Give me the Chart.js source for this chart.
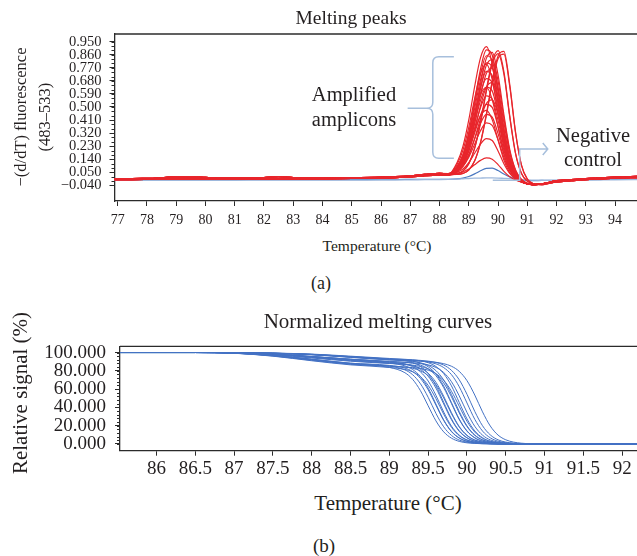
<!DOCTYPE html>
<html><head><meta charset="utf-8">
<script src="https://cdn.jsdelivr.net/npm/chart.js@4.4.1/dist/chart.umd.min.js"></script>
<style>
body{margin:0;background:#fff;width:637px;height:556px;overflow:hidden;position:relative;font-family:'Liberation Serif','Times New Roman',serif;color:#231f20}
canvas{position:absolute;left:0}
.t{position:absolute;white-space:nowrap;transform:translate(-50%,-50%);line-height:1}
.r{transform:translate(-50%,-50%) rotate(-90deg)}
</style></head><body>
<canvas id="ca" width="637" height="232" style="top:0"></canvas>
<canvas id="cb" width="637" height="160" style="top:326px"></canvas>
<div class="t" style="left:351px;top:18px;font-size:19.5px">Melting peaks</div>
<div class="t r" style="left:21px;top:117px;font-size:16.5px">−(d/dT) fluorescence</div>
<div class="t r" style="left:45px;top:117px;font-size:16.5px">(483–533)</div>
<div class="t" style="left:377px;top:246px;font-size:15.5px">Temperature (°C)</div>
<div class="t" style="left:321px;top:283px;font-size:18px">(a)</div>
<div class="t" style="left:354px;top:94px;font-size:20.5px">Amplified</div>
<div class="t" style="left:354px;top:119px;font-size:20.5px">amplicons</div>
<div class="t" style="left:593px;top:135px;font-size:20.5px">Negative</div>
<div class="t" style="left:593px;top:159px;font-size:20.5px">control</div>
<div class="t" style="left:378px;top:321px;font-size:21px">Normalized melting curves</div>
<div class="t r" style="left:20px;top:393px;font-size:21px">Relative signal (%)</div>
<div class="t" style="left:388px;top:503px;font-size:21px">Temperature (°C)</div>
<div class="t" style="left:324px;top:545px;font-size:19px">(b)</div>
<script>
// ---------- Panel (a): melting peaks ----------
const X_TICKS_A = [77,78,79,80,81,82,83,84,85,86,87,88,89,90,91,92,93,94];
const Y_TICKS_A = [0.95,0.86,0.77,0.68,0.59,0.5,0.41,0.32,0.23,0.14,0.05,-0.04];
const TEMP_A_LOW  = [76.8,77.5,78,78.5,79,79.5,80,80.5,81,82,82.5,83,84,85,86,86.5,87,87.5,88,88.3];
const TEMP_A_PEAK = [88.6,88.8,89.0,89.2,89.4,89.6,89.8,90.0,90.2,90.4,90.6,90.8,91.0,91.2,91.5];
const TEMP_A_HIGH = [92,92.5,93,93.5,94,94.8];

const BASE_LOW_1 = [0.003,0.003,0.004,0.004,0.004,0.004,0.004,0.005,0.005,0.006,0.006,0.006,0.007,0.009,0.012,0.015,0.020,0.028,0.034,0.034];
const BASE_LOW_2 = [0.000,0.000,0.002,0.012,0.018,0.020,0.015,0.006,0.002,0.003,0.004,0.004,0.005,0.007,0.010,0.013,0.018,0.026,0.030,0.031];
const BASE_LOW_3 = [0.006,0.007,0.008,0.009,0.010,0.010,0.009,0.009,0.010,0.014,0.020,0.014,0.010,0.012,0.016,0.020,0.026,0.035,0.042,0.040];
const BASE_HIGH_1 = [-0.012,-0.004,0.003,0.008,0.012,0.016];
const BASE_HIGH_2 = [-0.016,-0.008,0.000,0.005,0.010,0.014];
const BASE_HIGH_3 = [-0.008,0.000,0.007,0.012,0.017,0.022];

const RED_A1 = [.117,.228,.411,.641,.839,.916,.796,.526,.261,.095,.018,-.014,-.030,-.035,-.030];
const RED_A2 = [.105,.202,.360,.558,.730,.796,.691,.457,.227,.082,.014,-.015,-.030,-.035,-.030];
const RED_A3 = [.090,.166,.292,.449,.584,.636,.552,.365,.181,.065,.009,-.016,-.030,-.035,-.030];
const RED_A4 = [.075,.131,.223,.339,.439,.476,.413,.273,.135,.047,.004,-.017,-.030,-.035,-.030];
const RED_B1 = [.089,.172,.325,.540,.760,.893,.858,.632,.352,.145,.037,-.008,-.030,-.035,-.030];
const RED_B2 = [.086,.166,.312,.517,.726,.853,.820,.604,.336,.138,.035,-.009,-.030,-.035,-.030];
const RED_B3 = [.083,.158,.295,.488,.685,.804,.773,.569,.317,.130,.032,-.010,-.030,-.035,-.030];
const RED_B4 = [.079,.148,.275,.453,.635,.745,.716,.527,.293,.120,.029,-.010,-.030,-.035,-.030];
const RED_B5 = [.076,.140,.258,.424,.593,.696,.668,.492,.273,.112,.027,-.011,-.030,-.035,-.030];
const RED_B6 = [.072,.131,.238,.389,.544,.637,.611,.450,.250,.102,.023,-.012,-.030,-.035,-.030];
const RED_B7 = [.068,.121,.218,.355,.494,.577,.554,.408,.226,.092,.020,-.013,-.030,-.035,-.030];
const RED_B8 = [.065,.112,.198,.320,.444,.518,.497,.366,.203,.082,.017,-.013,-.030,-.035,-.030];
const RED_B9 = [.060,.100,.174,.279,.386,.449,.430,.316,.175,.070,.013,-.014,-.030,-.035,-.030];
const RED_B10 = [.056,.091,.154,.244,.336,.390,.373,.274,.152,.060,.010,-.015,-.030,-.035,-.030];
const RED_B11 = [.049,.073,.117,.181,.244,.282,.269,.197,.109,.042,.004,-.016,-.030,-.035,-.030];
const RED_B12 = [.041,.052,.072,.102,.132,.149,.140,.103,.056,.019,-.003,-.018,-.030,-.035,-.030];
const RED_C1 = [.069,.128,.249,.439,.660,.835,.877,.721,.448,.208,.066,.001,-.026,-.035,-.030];
const RED_C2 = [.066,.123,.236,.415,.624,.788,.827,.680,.423,.195,.061,.000,-.026,-.035,-.030];
const RED_C3 = [.064,.116,.221,.387,.579,.731,.767,.630,.392,.181,.056,-.002,-.026,-.035,-.030];
const RED_C4 = [.060,.105,.195,.339,.506,.637,.668,.549,.341,.157,.047,-.004,-.027,-.035,-.030];
const RED_C5 = [.055,.091,.165,.282,.417,.524,.549,.450,.279,.128,.037,-.007,-.027,-.035,-.030];
const RED_D1 = [.041,.059,.110,.218,.396,.619,.813,.888,.744,.440,.181,.043,-.011,-.030,-.035];
const RED_D2 = [.041,.058,.108,.213,.387,.605,.795,.868,.727,.430,.176,.042,-.011,-.030,-.035];
const RED_E1 = [.035,.042,.066,.129,.256,.451,.679,.852,.883,.656,.326,.101,.004,-.028,-.035];
const RED_E2 = [.035,.042,.065,.127,.251,.441,.664,.833,.864,.641,.319,.098,.003,-.028,-.035];

const NEG_BLUE_LOW  = [-0.003,-0.003,-0.002,-0.002,-0.002,-0.002,-0.002,-0.001,-0.001,-0.001,-0.001,0,0,0,0,0,0.001,0.002,0.002,0.002];
const NEG_BLUE_PEAK = [0.004,0.010,0.021,0.039,0.060,0.077,0.078,0.062,0.038,0.018,0.005,-0.003,-0.007,-0.008,-0.006];
const NEG_BLUE_HIGH = [-0.005,-0.003,-0.001,0.000,0.001,0.002];
const NEG_LIGHT_LOW  = [-0.005,-0.005,-0.005,-0.005,-0.005,-0.005,-0.005,-0.005,-0.005,-0.004,-0.004,-0.004,-0.004,-0.004,-0.003,-0.003,-0.002,-0.001,0.000,0.001];
const NEG_LIGHT_PEAK = [0.003,0.005,0.007,0.009,0.010,0.011,0.011,0.010,0.008,0.006,0.003,0.000,-0.003,-0.004,-0.005];
const NEG_LIGHT_HIGH = [-0.006,-0.005,-0.004,-0.003,-0.002,-0.001];

// ---------- Panel (b): normalized melting curves ----------
const X_TICKS_B = [86,86.5,87,87.5,88,88.5,89,89.5,90,90.5,91,91.5,92];
const Y_TICKS_B = [0,20,40,60,80,100];
const TEMP_B = [85.4,86.5,87,87.5,88,88.5,89,89.2,89.3,89.4,89.5,89.6,89.7,89.8,89.9,90.0,90.1,90.2,90.3,90.4,90.5,90.6,90.8,91.0,92.3];
const BLUE_B01 = [100,100,99.3,96.5,92,87.4,83.7,77.9,70.6,58.3,41.7,25.2,13.2,6.3,2.8,1.2,0.6,0.2,0.1,0,0,0,0,0,0];
const BLUE_B02 = [100,100,99.4,97,92.8,88.3,85.1,81.0,75.7,65.9,51.0,33.4,18.7,9.3,4.2,1.9,0.8,0.3,0.1,0,0,0,0,0,0];
const BLUE_B03 = [100,100,99.7,98,95,91.5,88.4,85.4,81.4,73.8,61.0,43.6,26.3,13.8,6.6,2.9,1.3,0.6,0.3,0.1,0,0,0,0,0];
const BLUE_B04 = [100,100,99.2,96,91,86.5,83.7,81.5,78.9,73.6,64.1,49.6,32.5,18.2,9.0,4.1,1.9,0.8,0.3,0.1,0,0,0,0,0];
const BLUE_B05 = [100,100,99.8,98.3,95.5,92.5,89.6,87.3,84.6,78.9,68.8,53.2,34.9,19.5,9.7,4.4,2.0,0.9,0.3,0.1,0,0,0,0,0];
const BLUE_B06 = [100,100,99.7,98,95.3,92,89.2,87.6,85.6,81.6,74.0,61.1,43.7,26.4,13.8,6.6,2.9,1.3,0.6,0.2,0.1,0,0,0,0];
const BLUE_B07 = [100,100,100,99.3,98,95.5,92.7,91.0,89.0,84.8,77.0,63.6,45.5,27.5,14.4,6.8,3.0,1.3,0.6,0.3,0.1,0,0,0,0];
const BLUE_B08 = [100,100,99.6,97.8,94.6,91,88.3,87.0,85.6,82.8,77.3,67.4,52.1,34.2,19.1,9.5,4.3,2.0,0.8,0.3,0.1,0,0,0,0];
const BLUE_B09 = [100,100,99.4,96.8,92.3,87.8,85.3,84.1,82.7,80.0,74.7,65.0,50.3,33.0,18.5,9.2,4.2,1.9,0.8,0.3,0.1,0,0,0,0];
const BLUE_B10 = [100,100,99.8,98.5,95.8,92.8,90.4,89.3,88.3,86.3,82.2,74.6,61.6,44.1,26.6,13.9,6.6,3.0,1.3,0.6,0.3,0.1,0,0,0];
const BLUE_B11 = [100,100,100,99.2,97.6,94.8,92,91.0,90.2,88.7,85.9,80.2,69.9,54.0,35.5,19.8,9.8,4.5,2.0,0.9,0.4,0.1,0,0,0];
const BLUE_B12 = [100,100,99.6,97.5,94,90.5,88,87.1,86.2,84.8,82.1,76.6,66.7,51.6,33.9,19.0,9.4,4.3,1.9,0.8,0.3,0.1,0,0,0];
const BLUE_B13 = [100,100,100,99.4,98.3,96,93.5,92.6,92.0,90.9,88.9,84.7,76.9,63.5,45.4,27.4,14.3,6.8,3.0,1.3,0.6,0.3,0.1,0,0];
const BLUE_B14 = [100,100,99.8,98.3,95.5,92.5,90,89.2,88.7,87.9,86.5,83.7,78.1,68.1,52.6,34.5,19.3,9.6,4.4,2.0,0.9,0.3,0.1,0,0];
const BLUE_B15 = [100,100,100,99.2,97.8,95.2,92.5,91.8,91.3,90.7,89.6,87.6,83.5,75.8,62.6,44.8,27.0,14.1,6.7,3.0,1.3,0.6,0.1,0,0];
const BLUE_B16 = [100,100,100,99.3,98,95.5,93,92.3,91.9,91.4,90.6,89.1,86.3,80.5,70.2,54.3,35.6,19.9,9.9,4.5,2.0,0.9,0.2,0,0];
const BLUE_B17 = [100,100,100,99.2,97.6,94.8,92,91.4,91.1,90.6,90.1,89.3,87.8,85.0,79.4,69.2,53.5,35.1,19.6,9.7,4.5,2.0,0.3,0.1,0];
const BLUE_B18 = [100,100,99.4,96.8,92.5,88.3,85.9,83.0,79.1,71.7,59.2,42.4,25.6,13.4,6.4,2.8,1.3,0.6,0.3,0.1,0,0,0,0,0];
const BLUE_B19 = [100,100,100,99.2,97.8,95.2,92.6,91.6,90.5,88.5,84.4,76.5,63.2,45.2,27.3,14.3,6.8,3.0,1.3,0.6,0.3,0.1,0,0,0];
const BLUE_B20 = [100,100,99.3,96.3,91.5,87.2,85,84.1,83.5,82.5,80.7,76.9,69.7,57.6,41.2,24.8,13.0,6.2,2.8,1.2,0.6,0.2,0,0,0];

// ---------- build ----------
Chart.defaults.font.family = "'Liberation Serif','Times New Roman',serif";
Chart.defaults.color = '#231f20';
const INK = '#2b2b2b';
const RED = '#e8262c';

const REDS = [RED_A1,RED_B1,RED_C1,RED_A2,RED_B2,RED_C2,RED_B3,RED_A3,RED_C3,RED_B4,RED_B5,RED_C4,RED_B6,RED_A4,RED_B7,RED_C5,RED_B8,RED_B9,RED_B10,RED_B11,RED_B12,RED_D1,RED_D2,RED_E1,RED_E2];
const LOWS = [BASE_LOW_1,BASE_LOW_2,BASE_LOW_3];
const HIGHS = [BASE_HIGH_1,BASE_HIGH_2,BASE_HIGH_3];

function joinA(low, peak, high){
  return [
    ...TEMP_A_LOW.map((x,i)=>({x, y:low[i]})),
    ...TEMP_A_PEAK.map((x,i)=>({x, y:peak[i]})),
    ...TEMP_A_HIGH.map((x,i)=>({x, y:high[i]}))
  ];
}
function lineDs(data, color, w){
  return {data, borderColor:color, borderWidth:w, pointRadius:0, fill:false, cubicInterpolationMode:'monotone'};
}
const dsA = REDS.map((p,i)=>lineDs(joinA(LOWS[i%3], p, HIGHS[i%3]), RED, 1.2));
dsA.push(lineDs(joinA(NEG_LIGHT_LOW, NEG_LIGHT_PEAK, NEG_LIGHT_HIGH), '#9db8dc', 1.3));
dsA.push(lineDs(joinA(NEG_BLUE_LOW, NEG_BLUE_PEAK, NEG_BLUE_HIGH), '#4a78c0', 1.2));

const BLUES = [BLUE_B01,BLUE_B02,BLUE_B03,BLUE_B04,BLUE_B05,BLUE_B06,BLUE_B07,BLUE_B08,BLUE_B09,BLUE_B10,BLUE_B11,BLUE_B12,BLUE_B13,BLUE_B14,BLUE_B15,BLUE_B16,BLUE_B17,BLUE_B18,BLUE_B19,BLUE_B20];
const dsB = BLUES.map(v=>lineDs(TEMP_B.map((x,i)=>({x, y:v[i]})), '#4472c4', 1));

function frame(step, lo, hi){
  return {
    id:'frame',
    afterDraw(chart){
      const ctx = chart.ctx, a = chart.chartArea, y = chart.scales.y;
      ctx.save();
      ctx.strokeStyle = INK; ctx.lineWidth = 1;
      for (let v = lo; v <= hi + 1e-9; v += step){
        const p = Math.round(y.getPixelForValue(v)) + 0.5;
        ctx.beginPath(); ctx.moveTo(a.left - 3, p); ctx.lineTo(a.left, p); ctx.stroke();
      }
      ctx.lineWidth = 1.3;
      ctx.beginPath(); ctx.moveTo(a.left, a.top); ctx.lineTo(a.right, a.top); ctx.stroke();
      ctx.restore();
    }
  };
}

const annotA = {
  id:'annotA',
  afterDatasetsDraw(chart){
    const ctx = chart.ctx, X = chart.scales.x, Y = chart.scales.y;
    const px = v => X.getPixelForValue(v), py = v => Y.getPixelForValue(v);
    ctx.save();
    ctx.strokeStyle = '#a7bfdc'; ctx.lineWidth = 1.5;
    const xs = px(87.77), xa = px(88.49), xp = px(86.91);
    const yt = py(0.847), ym = py(0.492), yb = py(0.147), r = 6;
    ctx.beginPath();
    ctx.moveTo(xa, yt); ctx.lineTo(xs + r, yt); ctx.quadraticCurveTo(xs, yt, xs, yt + r);
    ctx.lineTo(xs, ym - r); ctx.quadraticCurveTo(xs, ym, xs - r, ym); ctx.lineTo(xp, ym);
    ctx.moveTo(xs - r, ym); ctx.quadraticCurveTo(xs, ym, xs, ym + r);
    ctx.lineTo(xs, yb - r); ctx.quadraticCurveTo(xs, yb, xs + r, yb); ctx.lineTo(xa, yb);
    ctx.stroke();
    const x0 = px(89.82), x1 = px(90.74), x2 = px(91.7), y0 = py(-0.005), y1 = py(0.21);
    ctx.beginPath();
    ctx.moveTo(x0, y0); ctx.lineTo(x1, y0); ctx.lineTo(x1, y1); ctx.lineTo(x2, y1);
    ctx.moveTo(x2 - 5, y1 - 6); ctx.lineTo(x2, y1); ctx.lineTo(x2 - 5, y1 + 6);
    ctx.stroke();
    ctx.restore();
  }
};

const minus = s => s.replace('-', '\u2212');

new Chart(document.getElementById('ca'), {
  type:'line',
  data:{datasets: dsA},
  options:{
    responsive:false, animation:false, devicePixelRatio:1,
    layout:{padding:{top:34, left:0, right:0, bottom:0}},
    plugins:{legend:{display:false}, tooltip:{enabled:false}},
    scales:{
      x:{type:'linear', min:76.89, max:94.75,
         afterBuildTicks: s => { s.ticks = X_TICKS_A.map(v=>({value:v})); },
         afterFit: s => { s.height = 31; },
         ticks:{font:{size:14}, padding:6, maxRotation:0, autoSkip:false, callback:v=>String(v)},
         grid:{drawOnChartArea:false, drawTicks:true, tickLength:5, color:INK},
         border:{display:true, color:INK, width:1.3}},
      y:{type:'linear', min:-0.148, max:1.003,
         afterBuildTicks: s => { s.ticks = Y_TICKS_A.map(v=>({value:v})); },
         afterFit: s => { s.width = 114.5; },
         ticks:{font:{size:14.5}, padding:8, autoSkip:false, callback:v=>minus(Number(v).toFixed(3))},
         grid:{drawOnChartArea:false, drawTicks:true, tickLength:5, color:INK},
         border:{display:true, color:INK, width:1.3}}
    }
  },
  plugins:[frame(0.03, -0.04, 0.95), annotA]
});

new Chart(document.getElementById('cb'), {
  type:'line',
  data:{datasets: dsB},
  options:{
    responsive:false, animation:false, devicePixelRatio:1,
    layout:{padding:{top:10, left:0, right:0, bottom:0}},
    plugins:{legend:{display:false}, tooltip:{enabled:false}},
    scales:{
      x:{type:'linear', min:85.53, max:92.19,
         afterBuildTicks: s => { s.ticks = X_TICKS_B.map(v=>({value:v})); },
         afterFit: s => { s.height = 35.3; },
         ticks:{font:{size:19}, padding:2, maxRotation:0, autoSkip:false, callback:v=>String(v)},
         grid:{drawOnChartArea:false, drawTicks:true, tickLength:5, color:INK},
         border:{display:true, color:INK, width:1.3}},
      y:{type:'linear', min:-7.4, max:106.7,
         afterBuildTicks: s => { s.ticks = Y_TICKS_B.map(v=>({value:v})); },
         afterFit: s => { s.width = 120; },
         ticks:{font:{size:19}, padding:9, autoSkip:false, callback:v=>Number(v).toFixed(3)},
         grid:{drawOnChartArea:false, drawTicks:true, tickLength:5, color:INK},
         border:{display:true, color:INK, width:1.3}}
    }
  },
  plugins:[frame(4, 0, 100)]
});
</script>
</body></html>
